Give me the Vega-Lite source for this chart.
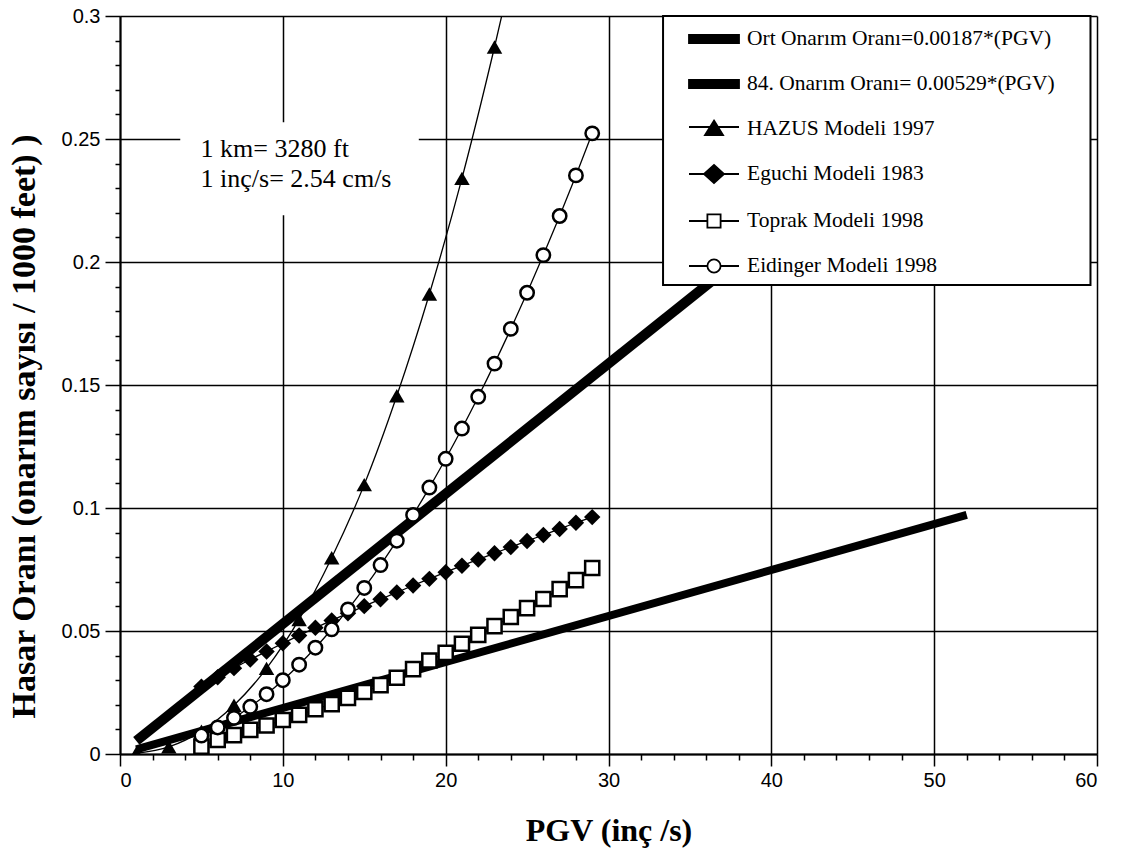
{
  "$schema": "https://vega.github.io/schema/vega-lite/v6.json",
  "autosize": {"type": "none"},
  "padding": {"left": 120, "top": 16, "right": 24, "bottom": 98},
  "width": 977,
  "height": 738,
  "background": "white",
  "config": {"view": {"stroke": null}},
  "datasets": {
    "pts": [
      {"model": "Ort Onarım Oranı=0.00187*(PGV)", "pgv": 1, "rate": 0.0019},
      {"model": "Ort Onarım Oranı=0.00187*(PGV)", "pgv": 52, "rate": 0.0972},
      {"model": "84. Onarım Oranı= 0.00529*(PGV)", "pgv": 1, "rate": 0.0053},
      {"model": "84. Onarım Oranı= 0.00529*(PGV)", "pgv": 56, "rate": 0.2962},
      {"model": "HAZUS Modeli 1997", "pgv": 1, "rate": 0.0003},
      {"model": "HAZUS Modeli 1997", "pgv": 3, "rate": 0.0029},
      {"model": "HAZUS Modeli 1997", "pgv": 5, "rate": 0.0093},
      {"model": "HAZUS Modeli 1997", "pgv": 7, "rate": 0.0198},
      {"model": "HAZUS Modeli 1997", "pgv": 9, "rate": 0.0348},
      {"model": "HAZUS Modeli 1997", "pgv": 11, "rate": 0.0547},
      {"model": "HAZUS Modeli 1997", "pgv": 13, "rate": 0.0798},
      {"model": "HAZUS Modeli 1997", "pgv": 15, "rate": 0.1095},
      {"model": "HAZUS Modeli 1997", "pgv": 17, "rate": 0.1456},
      {"model": "HAZUS Modeli 1997", "pgv": 19, "rate": 0.187},
      {"model": "HAZUS Modeli 1997", "pgv": 21, "rate": 0.234},
      {"model": "HAZUS Modeli 1997", "pgv": 23, "rate": 0.2874},
      {"model": "HAZUS Modeli 1997", "pgv": 24, "rate": 0.316},
      {"model": "Eguchi Modeli 1983", "pgv": 5, "rate": 0.0274},
      {"model": "Eguchi Modeli 1983", "pgv": 6, "rate": 0.0312},
      {"model": "Eguchi Modeli 1983", "pgv": 7, "rate": 0.0349},
      {"model": "Eguchi Modeli 1983", "pgv": 8, "rate": 0.0384},
      {"model": "Eguchi Modeli 1983", "pgv": 9, "rate": 0.0417},
      {"model": "Eguchi Modeli 1983", "pgv": 10, "rate": 0.045},
      {"model": "Eguchi Modeli 1983", "pgv": 11, "rate": 0.0482},
      {"model": "Eguchi Modeli 1983", "pgv": 12, "rate": 0.0513},
      {"model": "Eguchi Modeli 1983", "pgv": 13, "rate": 0.0543},
      {"model": "Eguchi Modeli 1983", "pgv": 14, "rate": 0.0572},
      {"model": "Eguchi Modeli 1983", "pgv": 15, "rate": 0.0601},
      {"model": "Eguchi Modeli 1983", "pgv": 16, "rate": 0.0629},
      {"model": "Eguchi Modeli 1983", "pgv": 17, "rate": 0.0657},
      {"model": "Eguchi Modeli 1983", "pgv": 18, "rate": 0.0685},
      {"model": "Eguchi Modeli 1983", "pgv": 19, "rate": 0.0712},
      {"model": "Eguchi Modeli 1983", "pgv": 20, "rate": 0.0739},
      {"model": "Eguchi Modeli 1983", "pgv": 21, "rate": 0.0765},
      {"model": "Eguchi Modeli 1983", "pgv": 22, "rate": 0.0791},
      {"model": "Eguchi Modeli 1983", "pgv": 23, "rate": 0.0816},
      {"model": "Eguchi Modeli 1983", "pgv": 24, "rate": 0.0841},
      {"model": "Eguchi Modeli 1983", "pgv": 25, "rate": 0.0866},
      {"model": "Eguchi Modeli 1983", "pgv": 26, "rate": 0.089},
      {"model": "Eguchi Modeli 1983", "pgv": 27, "rate": 0.0915},
      {"model": "Eguchi Modeli 1983", "pgv": 28, "rate": 0.094},
      {"model": "Eguchi Modeli 1983", "pgv": 29, "rate": 0.0963},
      {"model": "Toprak Modeli 1998", "pgv": 5, "rate": 0.003},
      {"model": "Toprak Modeli 1998", "pgv": 6, "rate": 0.0057},
      {"model": "Toprak Modeli 1998", "pgv": 7, "rate": 0.0077},
      {"model": "Toprak Modeli 1998", "pgv": 8, "rate": 0.0098},
      {"model": "Toprak Modeli 1998", "pgv": 9, "rate": 0.0116},
      {"model": "Toprak Modeli 1998", "pgv": 10, "rate": 0.0138},
      {"model": "Toprak Modeli 1998", "pgv": 11, "rate": 0.0159},
      {"model": "Toprak Modeli 1998", "pgv": 12, "rate": 0.0182},
      {"model": "Toprak Modeli 1998", "pgv": 13, "rate": 0.0203},
      {"model": "Toprak Modeli 1998", "pgv": 14, "rate": 0.0228},
      {"model": "Toprak Modeli 1998", "pgv": 15, "rate": 0.0252},
      {"model": "Toprak Modeli 1998", "pgv": 16, "rate": 0.028},
      {"model": "Toprak Modeli 1998", "pgv": 17, "rate": 0.031},
      {"model": "Toprak Modeli 1998", "pgv": 18, "rate": 0.0345},
      {"model": "Toprak Modeli 1998", "pgv": 19, "rate": 0.038},
      {"model": "Toprak Modeli 1998", "pgv": 20, "rate": 0.0411},
      {"model": "Toprak Modeli 1998", "pgv": 21, "rate": 0.0448},
      {"model": "Toprak Modeli 1998", "pgv": 22, "rate": 0.0484},
      {"model": "Toprak Modeli 1998", "pgv": 23, "rate": 0.052},
      {"model": "Toprak Modeli 1998", "pgv": 24, "rate": 0.0557},
      {"model": "Toprak Modeli 1998", "pgv": 25, "rate": 0.0593},
      {"model": "Toprak Modeli 1998", "pgv": 26, "rate": 0.063},
      {"model": "Toprak Modeli 1998", "pgv": 27, "rate": 0.067},
      {"model": "Toprak Modeli 1998", "pgv": 28, "rate": 0.0707},
      {"model": "Toprak Modeli 1998", "pgv": 29, "rate": 0.0756},
      {"model": "Eidinger Modeli 1998", "pgv": 5, "rate": 0.0075},
      {"model": "Eidinger Modeli 1998", "pgv": 6, "rate": 0.0108},
      {"model": "Eidinger Modeli 1998", "pgv": 7, "rate": 0.0147},
      {"model": "Eidinger Modeli 1998", "pgv": 8, "rate": 0.0192},
      {"model": "Eidinger Modeli 1998", "pgv": 9, "rate": 0.0243},
      {"model": "Eidinger Modeli 1998", "pgv": 10, "rate": 0.03},
      {"model": "Eidinger Modeli 1998", "pgv": 11, "rate": 0.0363},
      {"model": "Eidinger Modeli 1998", "pgv": 12, "rate": 0.0432},
      {"model": "Eidinger Modeli 1998", "pgv": 13, "rate": 0.0507},
      {"model": "Eidinger Modeli 1998", "pgv": 14, "rate": 0.0588},
      {"model": "Eidinger Modeli 1998", "pgv": 15, "rate": 0.0675},
      {"model": "Eidinger Modeli 1998", "pgv": 16, "rate": 0.0768},
      {"model": "Eidinger Modeli 1998", "pgv": 17, "rate": 0.0867},
      {"model": "Eidinger Modeli 1998", "pgv": 18, "rate": 0.0972},
      {"model": "Eidinger Modeli 1998", "pgv": 19, "rate": 0.1083},
      {"model": "Eidinger Modeli 1998", "pgv": 20, "rate": 0.12},
      {"model": "Eidinger Modeli 1998", "pgv": 21, "rate": 0.1323},
      {"model": "Eidinger Modeli 1998", "pgv": 22, "rate": 0.1452},
      {"model": "Eidinger Modeli 1998", "pgv": 23, "rate": 0.1587},
      {"model": "Eidinger Modeli 1998", "pgv": 24, "rate": 0.1728},
      {"model": "Eidinger Modeli 1998", "pgv": 25, "rate": 0.1875},
      {"model": "Eidinger Modeli 1998", "pgv": 26, "rate": 0.2028},
      {"model": "Eidinger Modeli 1998", "pgv": 27, "rate": 0.2187},
      {"model": "Eidinger Modeli 1998", "pgv": 28, "rate": 0.2352},
      {"model": "Eidinger Modeli 1998", "pgv": 29, "rate": 0.2523}
    ]
  },
  "data": {"name": "pts"},
  "encoding": {
    "x": {
      "field": "pgv", "type": "quantitative",
      "scale": {"domain": [0, 60], "nice": false, "zero": false},
      "axis": {
        "title": "PGV (inç /s)",
        "values": [0,2,4,6,8,10,12,14,16,18,20,22,24,26,28,30,32,34,36,38,40,42,44,46,48,50,52,54,56,58,60],
        "labelExpr": "datum.value % 10 === 0 ? datum.label : ''",
        "tickSize": {"condition": {"test": "datum.value % 10 === 0", "value": 12}, "value": 6},
        "gridOpacity": {"condition": {"test": "datum.value % 10 === 0", "value": 1}, "value": 0},
        "grid": true, "gridColor": "black", "gridWidth": 1.5,
        "domainColor": "black", "domainWidth": 2,
        "tickColor": "black", "tickWidth": 1.5,
        "labelFont": "Liberation Sans", "labelFontSize": 20, "labelColor": "black", "labelPadding": 4,
        "labelOverlap": false,
        "titleFont": "Liberation Serif", "titleFontWeight": "bold", "titleFontSize": 32, "titleColor": "black",
        "titleBaseline": "alphabetic", "titleY": 86
      }
    },
    "y": {
      "field": "rate", "type": "quantitative",
      "scale": {"domain": [0, 0.3], "nice": false},
      "axis": {
        "title": "Hasar Oranı (onarım sayısı / 1000 feet) )",
        "values": [0,0.01,0.02,0.03,0.04,0.05,0.06,0.07,0.08,0.09,0.1,0.11,0.12,0.13,0.14,0.15,0.16,0.17,0.18,0.19,0.2,0.21,0.22,0.23,0.24,0.25,0.26,0.27,0.28,0.29,0.3],
        "labelExpr": "abs(datum.value*20 - round(datum.value*20)) < 0.001 ? format(datum.value, '~g') : ''",
        "tickSize": {"condition": {"test": "abs(datum.value*20 - round(datum.value*20)) < 0.001", "value": 15}, "value": 5},
        "gridOpacity": {"condition": {"test": "abs(datum.value*20 - round(datum.value*20)) < 0.001", "value": 1}, "value": 0},
        "grid": true, "gridColor": "black", "gridWidth": 1.5,
        "domainColor": "black", "domainWidth": 2,
        "tickColor": "black", "tickWidth": 1.5,
        "labelFont": "Liberation Sans", "labelFontSize": 20, "labelColor": "black", "labelPadding": 5,
        "labelOverlap": false,
        "titleFont": "Liberation Serif", "titleFontWeight": "bold", "titleFontSize": 34, "titleColor": "black",
        "titleBaseline": "alphabetic", "titleX": -86, "titleY": 410, "titleAngle": 270
      }
    }
  },
  "layer": [
    {
      "transform": [{"filter": "datum.model === 'Ort Onarım Oranı=0.00187*(PGV)'"}],
      "mark": {"type": "line", "color": "black", "strokeWidth": 8, "strokeCap": "butt", "clip": true},
      "encoding": {"detail": {"field": "model"}}
    },
    {
      "transform": [{"filter": "datum.model === '84. Onarım Oranı= 0.00529*(PGV)'"}],
      "mark": {"type": "line", "color": "black", "strokeWidth": 10, "strokeCap": "butt", "clip": true},
      "encoding": {"detail": {"field": "model"}}
    },
    {
      "transform": [{"filter": {"field": "model", "oneOf": ["HAZUS Modeli 1997", "Eguchi Modeli 1983", "Toprak Modeli 1998", "Eidinger Modeli 1998"]}}],
      "mark": {"type": "line", "color": "black", "strokeWidth": 1.3, "interpolate": "monotone", "clip": true},
      "encoding": {"detail": {"field": "model"}}
    },
    {
      "transform": [{"filter": "datum.model === 'HAZUS Modeli 1997'"}],
      "mark": {"type": "point", "shape": "triangle-up", "filled": true, "color": "black", "opacity": 1, "size": 240, "clip": true}
    },
    {
      "transform": [{"filter": "datum.model === 'Eguchi Modeli 1983'"}],
      "mark": {"type": "point", "shape": "diamond", "filled": true, "color": "black", "opacity": 1, "size": 270}
    },
    {
      "transform": [{"filter": "datum.model === 'Toprak Modeli 1998'"}],
      "mark": {"type": "point", "shape": "square", "fill": "white", "stroke": "black", "strokeWidth": 2.5, "opacity": 1, "fillOpacity": 1, "size": 200}
    },
    {
      "transform": [{"filter": "datum.model === 'Eidinger Modeli 1998'"}],
      "mark": {"type": "point", "shape": "circle", "fill": "white", "stroke": "black", "strokeWidth": 2.5, "opacity": 1, "fillOpacity": 1, "size": 180}
    },
    {
      "transform": [{"filter": "datum.model === 'Ort Onarım Oranı=0.00187*(PGV)' && datum.pgv === 1"}],
      "mark": {"type": "rect", "fill": "white", "strokeWidth": 0},
      "encoding": {
        "x": {"datum": 3.7, "type": "quantitative"},
        "x2": {"datum": 18.35},
        "y": {"datum": 0.219, "type": "quantitative"},
        "y2": {"datum": 0.2568}
      }
    },
    {
      "transform": [{"filter": "datum.model === 'Ort Onarım Oranı=0.00187*(PGV)' && datum.pgv === 1"}],
      "mark": {"type": "text", "text": ["1 km= 3280 ft", "1 inç/s= 2.54 cm/s"], "font": "Liberation Serif", "fontSize": 26, "color": "black", "align": "left", "baseline": "alphabetic", "lineHeight": 30},
      "encoding": {
        "x": {"datum": 4.95, "type": "quantitative"},
        "y": {"datum": 0.2427, "type": "quantitative"}
      }
    },
    {
      "transform": [{"filter": "datum.model === 'Ort Onarım Oranı=0.00187*(PGV)' && datum.pgv === 1"}],
      "mark": {"type": "rect", "fill": "white", "stroke": "black", "strokeWidth": 2},
      "encoding": {
        "x": {"datum": 33.35, "type": "quantitative"},
        "x2": {"datum": 59.6},
        "y": {"datum": 0.1907, "type": "quantitative"},
        "y2": {"datum": 0.3}
      }
    },
    {
      "mark": {"type": "point", "filled": true, "opacity": 0, "strokeWidth": 1.5},
      "encoding": {
        "shape": {
          "field": "model", "type": "nominal",
          "scale": {
            "domain": ["Ort Onarım Oranı=0.00187*(PGV)", "84. Onarım Oranı= 0.00529*(PGV)", "HAZUS Modeli 1997", "Eguchi Modeli 1983", "Toprak Modeli 1998", "Eidinger Modeli 1998"],
            "range": [
              "M-1.25,-0.2H1.25V0.2H-1.25Z",
              "M-1.25,-0.2H1.25V0.2H-1.25Z",
              "M-1.25,-0.1H1.25M0,-0.42L0.45,0.3L-0.45,0.3Z",
              "M-1.25,0H1.25M0,-0.45L0.5,0L0,0.45L-0.5,0Z",
              "M-1.25,0H-0.33M0.33,0H1.25M-0.33,-0.33H0.33V0.33H-0.33Z",
              "M-1.25,0H-0.33M0.33,0H1.25M0.33,0A0.33,0.33,0,1,1,-0.33,0A0.33,0.33,0,1,1,0.33,0Z"
            ]
          },
          "legend": {
            "title": null, "orient": "none", "legendX": 573, "legendY": 2, "padding": 0,
            "symbolSize": 1600, "symbolStrokeWidth": 1.8, "symbolOpacity": 1,
            "labelFont": "Liberation Serif", "labelFontSize": 21.5, "labelColor": "black", "labelOffset": 12, "labelLimit": 600,
            "rowPadding": 13
          }
        },
        "fill": {
          "field": "model", "type": "nominal",
          "scale": {
            "domain": ["Ort Onarım Oranı=0.00187*(PGV)", "84. Onarım Oranı= 0.00529*(PGV)", "HAZUS Modeli 1997", "Eguchi Modeli 1983", "Toprak Modeli 1998", "Eidinger Modeli 1998"],
            "range": ["black", "black", "black", "black", "white", "white"]
          },
          "legend": {
            "title": null, "orient": "none", "legendX": 573, "legendY": 2, "padding": 0,
            "symbolSize": 1600, "symbolStrokeWidth": 1.8, "symbolOpacity": 1,
            "labelFont": "Liberation Serif", "labelFontSize": 21.5, "labelColor": "black", "labelOffset": 12, "labelLimit": 600,
            "rowPadding": 13
          }
        },
        "stroke": {
          "field": "model", "type": "nominal",
          "scale": {
            "domain": ["Ort Onarım Oranı=0.00187*(PGV)", "84. Onarım Oranı= 0.00529*(PGV)", "HAZUS Modeli 1997", "Eguchi Modeli 1983", "Toprak Modeli 1998", "Eidinger Modeli 1998"],
            "range": ["black", "black", "black", "black", "black", "black"]
          },
          "legend": {
            "title": null, "orient": "none", "legendX": 573, "legendY": 2, "padding": 0,
            "symbolSize": 1600, "symbolStrokeWidth": 1.8, "symbolOpacity": 1,
            "labelFont": "Liberation Serif", "labelFontSize": 21.5, "labelColor": "black", "labelOffset": 12, "labelLimit": 600,
            "rowPadding": 13
          }
        }
      }
    }
  ]
}
